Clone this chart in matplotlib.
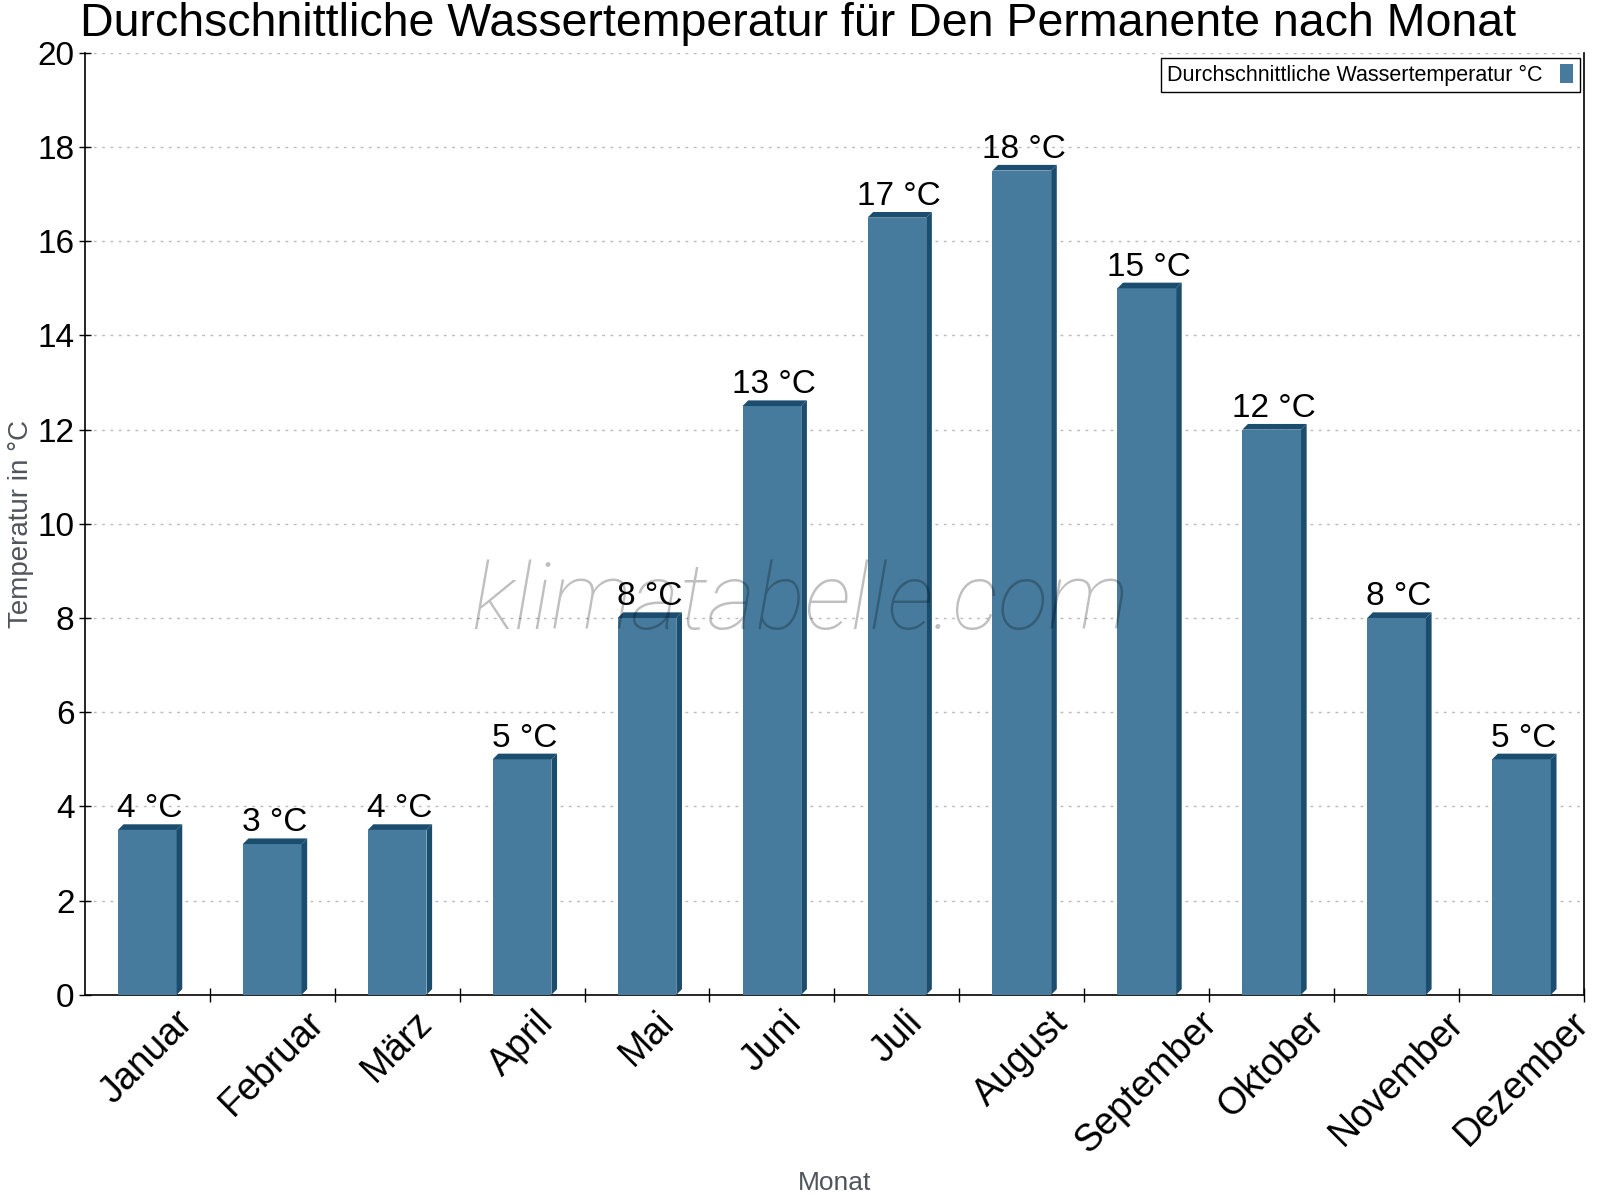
import numpy as np
import matplotlib.pyplot as plt
from matplotlib.patches import Polygon

plt.rcParams['font.family'] = ['Liberation Sans', 'DejaVu Sans']

# data
monate = ['Januar', 'Februar', 'März', 'April', 'Mai', 'Juni', 'Juli',
          'August', 'September', 'Oktober', 'November', 'Dezember']
wassertemp = [3.5, 3.2, 3.5, 5.0, 8.0, 12.5, 16.5, 17.5, 15.0, 12.0, 8.0, 5.0]
beschriftung = ['4 °C', '3 °C', '4 °C', '5 °C', '8 °C', '13 °C', '17 °C',
                '18 °C', '15 °C', '12 °C', '8 °C', '5 °C']

front = '#467b9d'
dunkel = '#1b4d6e'

fig = plt.figure(figsize=(16, 12), dpi=100)
ax = fig.add_axes([0.053, 0.171, 0.937, 0.785])

x = np.arange(len(monate))
breite = 0.47
ax.bar(x, wassertemp, width=breite, color=front, zorder=3,
       label='Durchschnittliche Wassertemperatur °C')

# fake 3D side and top
dx = 0.045
dy = 0.12
for xi, h in zip(x, wassertemp):
    x0 = xi - breite / 2
    x1 = xi + breite / 2
    ax.add_patch(Polygon([(x1, 0), (x1 + dx, dy), (x1 + dx, h + dy), (x1, h)],
                         closed=True, color=dunkel, zorder=3, lw=0))
    ax.add_patch(Polygon([(x0, h), (x0 + dx, h + dy), (x1 + dx, h + dy), (x1, h)],
                         closed=True, color=dunkel, zorder=3, lw=0))

for xi, h, t in zip(x, wassertemp, beschriftung):
    ax.text(xi + 0.02, h + dy + 0.0, t, ha='center', va='bottom',
            fontsize=24, zorder=5)

ax.set_xlim(-0.5, 11.5)
ax.set_ylim(0, 20)
ax.set_yticks(range(0, 21, 2))
ax.tick_params(axis='y', labelsize=24, direction='inout', length=8, width=1)

# month labels at bar centres, ticks at category borders
ax.set_xticks(x)
ax.set_xticklabels(monate, rotation=45, ha='center', fontsize=27)
ax.set_xticks(x + 0.5, minor=True)
ax.tick_params(axis='x', which='major', length=0, pad=7)
ax.tick_params(axis='x', which='minor', direction='inout', length=10, width=1)

ax.grid(axis='y', linestyle=(0, (2, 4)), color='#bbbbbb', lw=1, zorder=0)
ax.spines['top'].set_visible(False)
for s in ['left', 'bottom', 'right']:
    ax.spines[s].set_linewidth(1.2)

ax.set_ylabel('Temperatur in °C', fontsize=20, color='#50555c')
ax.yaxis.set_label_coords(-0.034, 0.5)
ax.set_xlabel('Monat', fontsize=19, color='#50555c')
ax.xaxis.set_label_coords(0.5, -0.187)

fig.text(0.05, 0.98, 'Durchschnittliche Wassertemperatur für Den Permanente nach Monat',
         fontsize=33.5, ha='left', va='center')

ax.legend(loc='upper right', bbox_to_anchor=(0.997, 0.995), fontsize=15.5,
          markerfirst=False, fancybox=False, edgecolor='black', framealpha=1,
          handlelength=0.6, handleheight=1.0, borderpad=0.3, handletextpad=0.8,
          borderaxespad=0)

fig.text(0.5, 0.497, 'klimatabelle.com', fontsize=67, style='italic',
         family=['Roboto', 'DejaVu Sans'], fontweight='light',
         color='black', alpha=0.25, ha='center', va='center', zorder=10)

fig.savefig('out.png', dpi=100)
